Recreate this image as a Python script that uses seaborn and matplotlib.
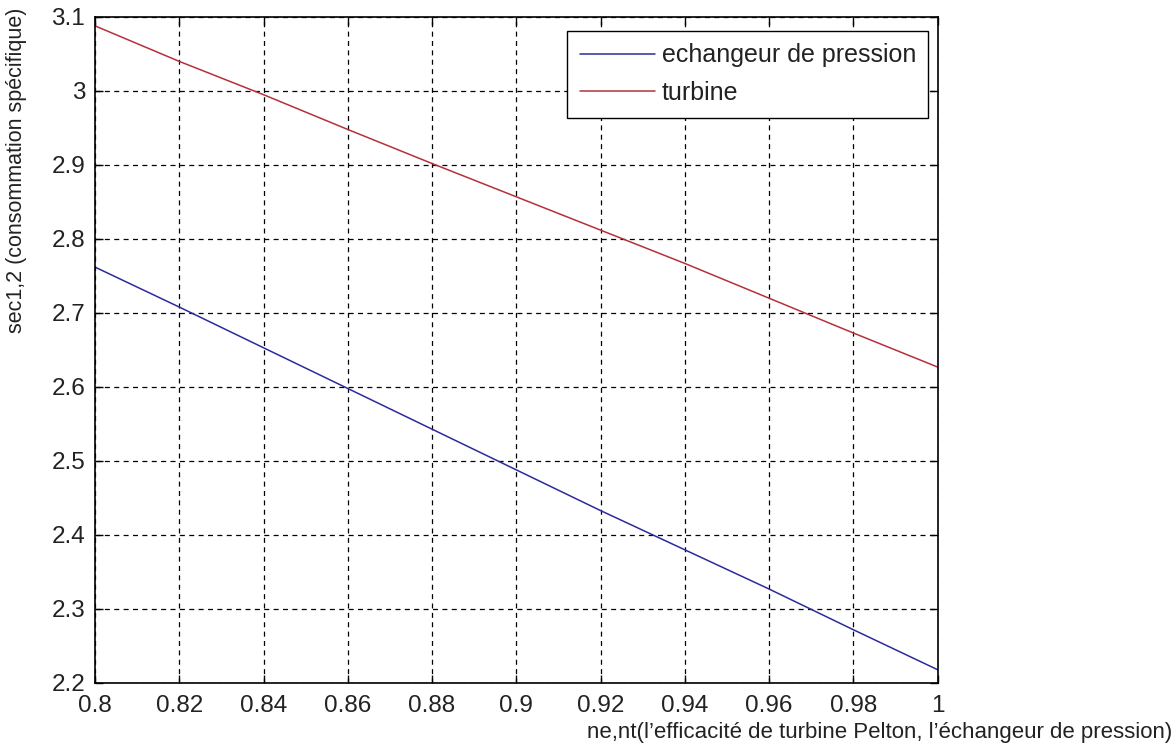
import matplotlib
matplotlib.use("Agg")
import matplotlib.pyplot as plt
import seaborn as sns
import pandas as pd
from matplotlib.lines import Line2D

# ---- data ----
efficiency = [0.80, 0.82, 0.84, 0.86, 0.88, 0.90, 0.92, 0.94, 0.96, 0.98, 1.00]
sec_echangeur = [2.762, 2.708, 2.653, 2.598, 2.543, 2.488, 2.433, 2.380, 2.327, 2.272, 2.218]
sec_turbine = [3.088, 3.040, 2.995, 2.948, 2.902, 2.857, 2.812, 2.767, 2.720, 2.673, 2.627]
series_names = ["echangeur de pression", "turbine"]
x_ticks = [0.80, 0.82, 0.84, 0.86, 0.88, 0.90, 0.92, 0.94, 0.96, 0.98, 1.00]
x_tick_labels = ["0.8", "0.82", "0.84", "0.86", "0.88", "0.9", "0.92", "0.94", "0.96", "0.98", "1"]
y_ticks = [2.2, 2.3, 2.4, 2.5, 2.6, 2.7, 2.8, 2.9, 3.0, 3.1]
y_tick_labels = ["2.2", "2.3", "2.4", "2.5", "2.6", "2.7", "2.8", "2.9", "3", "3.1"]
x_label = "ne,nt(l\u2019efficacit\u00e9 de turbine Pelton, l\u2019\u00e9changeur de pression)"
y_label = "sec1,2 (consommation sp\u00e9cifique)"

df = pd.DataFrame({
    "x": efficiency * 2,
    "y": sec_echangeur + sec_turbine,
    "serie": [series_names[0]] * len(efficiency) + [series_names[1]] * len(efficiency),
})

sns.set_theme(style="white")
plt.rcParams["font.family"] = ["Liberation Sans", "DejaVu Sans"]

fig = plt.figure(figsize=(11.76, 7.55), dpi=100)
ax = fig.add_axes([0.0808, 0.0954, 0.7164, 0.8821])

palette = {series_names[0]: "#2b2b9c", series_names[1]: "#b5303a"}
sns.lineplot(data=df, x="x", y="y", hue="serie", palette=palette, ax=ax,
             linewidth=1.1, legend=False)

ax.set_xlim(0.8, 1.0)
ax.set_ylim(2.2, 3.1)
ax.set_xticks(x_ticks)
ax.set_xticklabels(x_tick_labels)
ax.set_yticks(y_ticks)
ax.set_yticklabels(y_tick_labels)

ax.grid(True, color="black", linestyle=(0, (4, 3.5)), linewidth=0.9)
ax.set_axisbelow(True)
for s in ax.spines.values():
    s.set_color("black")
    s.set_linewidth(1.2)
    s.set_visible(True)

ax.tick_params(direction="in", length=6, width=1, colors="black",
               top=True, right=True, bottom=True, left=True,
               labelsize=17.5, pad=7)
ax.tick_params(axis="x", pad=9)
for lab in ax.get_xticklabels() + ax.get_yticklabels():
    lab.set_color("#222222")

ax.set_xlabel(x_label, fontsize=16, color="#222222")
ax.set_ylabel(y_label, fontsize=15.5, color="#222222")
ax.xaxis.set_label_coords(0.931, -0.058)
ax.yaxis.set_label_coords(-0.081, 0.770)

handles = [Line2D([], [], color=palette[n], linewidth=1.1) for n in series_names]
leg = ax.legend(handles, series_names, loc="upper right", fontsize=18,
                frameon=True, fancybox=False, framealpha=1, edgecolor="black",
                handlelength=3.0, handletextpad=0.28, borderpad=0.5,
                labelspacing=0.55, borderaxespad=0,
                bbox_to_anchor=(0.9893, 0.979))
leg.get_frame().set_linewidth(1.0)
for t in leg.get_texts():
    t.set_color("#222222")

fig.savefig("out.png", dpi=100, facecolor="white")
